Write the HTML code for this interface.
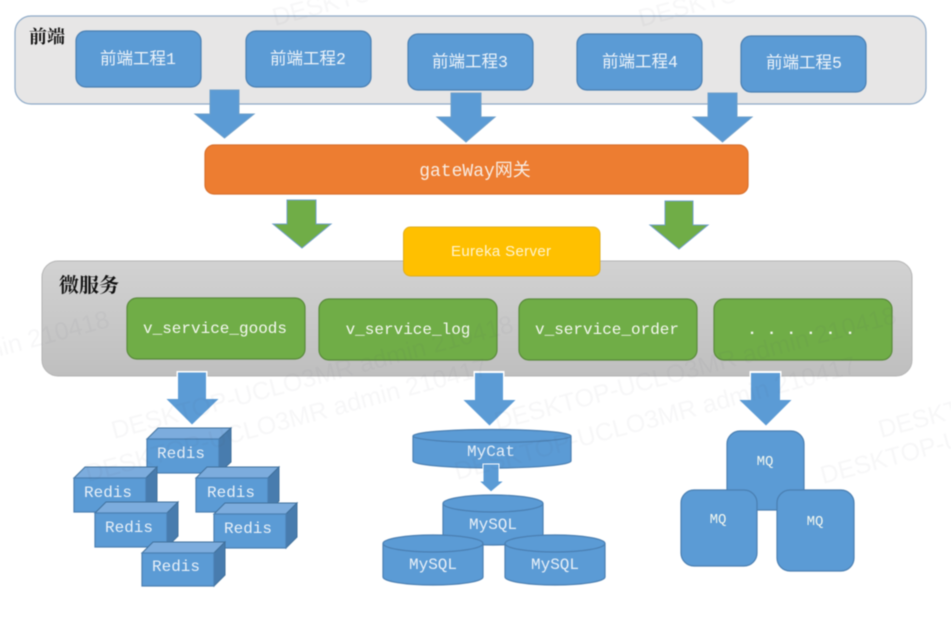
<!DOCTYPE html>
<html lang="zh">
<head>
<meta charset="utf-8">
<title>架构图</title>
<style>
html,body{margin:0;padding:0;background:#fff;width:951px;height:619px;overflow:hidden}
svg{display:block;filter:blur(.4px)}
.m{font-family:"Liberation Mono",monospace;fill:#f4f8f0;text-anchor:middle}
.c{font-family:"Liberation Mono","Noto Sans CJK SC",sans-serif;fill:#eef4fa;font-size:16.500px;text-anchor:middle}
.t{font-family:"Noto Serif CJK SC","Liberation Serif",serif;font-weight:700;fill:#111}
.w{font-family:"Liberation Sans",sans-serif;font-size:25px;fill:#556;opacity:.05}
.b{fill:#5b9bd5;stroke:#4a7fb2;stroke-width:1.200}
.a{fill:#5b9bd5;stroke:#6f9fc9;stroke-width:1}
.g{fill:#70ad47;stroke:#5a8a3c;stroke-width:1.200}
.top{fill:#7cacdd;stroke:#41719c}
.side{fill:#487cae;stroke:#41719c}
</style>
</head>
<body>
<svg width="951" height="619" viewBox="0 0 951 619" xmlns="http://www.w3.org/2000/svg">
<defs>
<linearGradient id="gr" x1="0" y1="0" x2="0" y2="1"><stop offset="0" stop-color="#d2d2d2"/><stop offset="1" stop-color="#bfbfbf"/></linearGradient>
</defs>
<rect width="951" height="619" fill="#fff"/>

<!-- front-end panel -->
<rect x="15" y="16" width="911" height="88" rx="16" fill="#e7e6e6" stroke="#8fabc8" stroke-width="1.200"/>
<text class="t" x="29" y="43" font-size="18">前端</text>
<rect class="b" x="76" y="31" width="125" height="56" rx="10"/>
<rect class="b" x="246" y="31" width="125" height="56" rx="10"/>
<rect class="b" x="408" y="34" width="125" height="56" rx="10"/>
<rect class="b" x="577" y="34" width="125" height="56" rx="10"/>
<rect class="b" x="741" y="36" width="125" height="56" rx="10"/>
<text class="c" x="138" y="64">前端工程1</text>
<text class="c" x="308" y="64">前端工程2</text>
<text class="c" x="470" y="67">前端工程3</text>
<text class="c" x="640" y="67">前端工程4</text>
<text class="c" x="804" y="68">前端工程5</text>

<!-- blue arrows to gateway -->
<polygon class="a" points="210,90 239,90 239,114 254,114 224.500,138 195,114 210,114"/>
<polygon class="a" points="451,93 481,93 481,117 495,117 466,142 437,117 451,117"/>
<polygon class="a" points="708,93 737,93 737,117 752,117 722.500,142 693,117 708,117"/>

<!-- gateway -->
<rect x="205" y="145" width="543" height="49" rx="9" fill="#ed7d31" stroke="#d9702c" stroke-width="1.200"/>
<text x="475" y="176" text-anchor="middle" font-size="18" fill="#f8ece2" font-family="'Liberation Mono','Noto Sans CJK SC',sans-serif">gateWay网关</text>

<!-- green arrows -->
<polygon fill="#70ad47" stroke="#6f9fc9" points="287,200 316,200 316,224 331,224 302,248 273,224 287,224"/>
<polygon fill="#70ad47" stroke="#6f9fc9" points="665,201 693,201 693,225 708,225 679,249 650,225 665,225"/>

<!-- microservice panel -->
<rect x="42" y="261" width="870" height="115" rx="16" fill="url(#gr)" stroke="#b4b4b4"/>
<text class="t" x="59" y="292" font-size="20">微服务</text>

<!-- eureka -->
<rect x="403.500" y="227" width="196.500" height="49" rx="7" fill="#ffc000" stroke="#dfae20"/>
<text x="501" y="256" text-anchor="middle" font-size="15" fill="#fff4d0" font-family="'Liberation Sans',sans-serif" textLength="100" lengthAdjust="spacing">Eureka Server</text>

<!-- services -->
<rect class="g" x="127" y="298" width="178" height="61" rx="10"/>
<rect class="g" x="319" y="299" width="178" height="61" rx="10"/>
<rect class="g" x="519" y="299" width="178" height="61" rx="10"/>
<rect class="g" x="714" y="299" width="178" height="61" rx="10"/>
<text class="m" x="215" y="333" font-size="16">v_service_goods</text>
<text class="m" x="408" y="334" font-size="16">v_service_log</text>
<text class="m" x="607" y="334" font-size="16">v_service_order</text>
<text class="m" x="806" y="334" font-size="16" letter-spacing="10" font-weight="700">......</text>

<!-- downward arrows: white halo on the shaft only, head at full width -->
<rect x="176.500" y="371" width="31" height="8" fill="#fff"/>
<rect x="473.500" y="371" width="31" height="8" fill="#fff"/>
<rect x="749.500" y="371" width="32" height="8" fill="#fff"/>
<polygon points="178,372.500 206,372.500 206,399 218.500,399 192,424.500 166.500,399 178,399" fill="#5b9bd5"/>
<polygon points="475,373 503,373 503,400 515.500,400 489.500,425.500 463.500,400 475,400" fill="#5b9bd5"/>
<polygon points="751,373 780,373 780,400 791.500,400 766,425.500 739.500,400 751,400" fill="#5b9bd5"/>

<!-- Redis -->
<g><polygon class="top" points="147,439 158,428 231,428 219,439"/><polygon class="side" points="219,439 231,428 231,462 219,473"/><rect class="b" x="147" y="439" width="72" height="34"/></g>
<text class="m" x="181" y="458" font-size="16" style="fill:#e8f0f8">Redis</text>
<g><polygon class="top" points="74,478 85,467 157,467 146,478"/><polygon class="side" points="146,478 157,467 157,501 146,512"/><rect class="b" x="74" y="478" width="72" height="34"/></g>
<text class="m" x="108" y="497" font-size="16" style="fill:#e8f0f8">Redis</text>
<g><polygon class="top" points="95,513 106,502 178,502 167,513"/><polygon class="side" points="167,513 178,502 178,536 167,547"/><rect class="b" x="95" y="513" width="72" height="34"/></g>
<text class="m" x="129" y="532" font-size="16" style="fill:#e8f0f8">Redis</text>
<g><polygon class="top" points="196,478 207,467 279,467 268,478"/><polygon class="side" points="268,478 279,467 279,501 268,512"/><rect class="b" x="196" y="478" width="72" height="34"/></g>
<text class="m" x="231" y="497" font-size="16" style="fill:#e8f0f8">Redis</text>
<g><polygon class="top" points="214,514 225,503 297,503 286,514"/><polygon class="side" points="286,514 297,503 297,537 286,548"/><rect class="b" x="214" y="514" width="72" height="34"/></g>
<text class="m" x="248" y="533" font-size="16" style="fill:#e8f0f8">Redis</text>
<g><polygon class="top" points="142,553 153,542 225,542 214,553"/><polygon class="side" points="214,553 225,542 225,575 214,586"/><rect class="b" x="142" y="553" width="72" height="33"/></g>
<text class="m" x="176" y="571" font-size="16" style="fill:#e8f0f8">Redis</text>

<!-- MyCat -->
<path class="b" d="M413,436 A79,6.500 0 0 1 571,436 V461 A79,7 0 0 1 413,461 Z"/>
<path d="M413,436 A79,6.500 0 0 0 571,436" fill="none" stroke="#4a7fb2" stroke-width="1.200"/>
<text class="m" x="491" y="456" font-size="16" style="fill:#e8f0f8">MyCat</text>
<polygon points="483,464 499,464 499,481 504,481 491,492 479,481 483,481" fill="#5b9bd5" stroke="#fff" stroke-width="1"/>

<!-- MySQL -->
<g><path class="b" d="M443,503.500 A50,8.500 0 0 1 543,503.500 V537 A50,8 0 0 1 443,537 Z"/><path d="M443,503.500 A50,8.500 0 0 0 543,503.500" fill="none" stroke="#4a7fb2" stroke-width="1.200"/></g>
<text class="m" x="493" y="529" font-size="16" style="fill:#e8f0f8">MySQL</text>
<g><path class="b" d="M383,543.500 A50,8.500 0 0 1 483,543.500 V577 A50,8 0 0 1 383,577 Z"/><path d="M383,543.500 A50,8.500 0 0 0 483,543.500" fill="none" stroke="#4a7fb2" stroke-width="1.200"/></g>
<text class="m" x="433" y="569" font-size="16" style="fill:#e8f0f8">MySQL</text>
<g><path class="b" d="M505,543.500 A50,8.500 0 0 1 605,543.500 V577 A50,8 0 0 1 505,577 Z"/><path d="M505,543.500 A50,8.500 0 0 0 605,543.500" fill="none" stroke="#4a7fb2" stroke-width="1.200"/></g>
<text class="m" x="555" y="569" font-size="16" style="fill:#e8f0f8">MySQL</text>

<!-- MQ -->
<rect class="b" x="727" y="431" width="77" height="79" rx="13"/>
<rect class="b" x="681" y="490" width="76" height="76" rx="13"/>
<rect class="b" x="777" y="490" width="77" height="81" rx="13"/>
<text class="m" x="765" y="465" font-size="14">MQ</text>
<text class="m" x="718" y="523" font-size="14">MQ</text>
<text class="m" x="815" y="525" font-size="14">MQ</text>

<!-- watermarks -->
<g class="w">
<text transform="translate(275,26) rotate(-15)">DESKTOP-UCLO3MR admin 210417</text>
<text transform="translate(641,27) rotate(-15)">DESKTOP-UCLO3MR admin 210417</text>
<text transform="translate(-290,434) rotate(-15)">DESKTOP-UCLO3MR admin 210418</text>
<text transform="translate(114,439) rotate(-15)">DESKTOP-UCLO3MR admin 210418</text>
<text transform="translate(88,482) rotate(-15)">DESKTOP-UCLO3MR admin 210417</text>
<text transform="translate(497,430) rotate(-15)">DESKTOP-UCLO3MR admin 210418</text>
<text transform="translate(457,480) rotate(-15)">DESKTOP-UCLO3MR admin 210417</text>
<text transform="translate(881,438) rotate(-15)">DESKTOP-UCLO3MR admin 210418</text>
<text transform="translate(823,484) rotate(-15)">DESKTOP-UCLO3MR admin 210417</text>
</g>
</svg>
</body>
</html>
